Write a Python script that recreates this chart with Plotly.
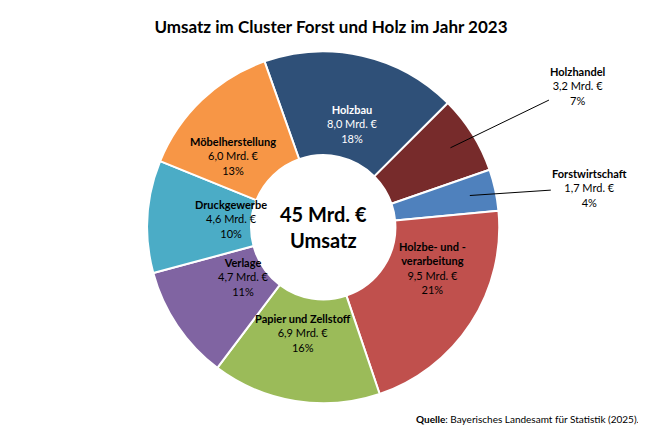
import math
import plotly.graph_objects as go

# data
branchen = ["Holzbau", "Holzhandel", "Forstwirtschaft", "Holzbe- und -<br>verarbeitung",
            "Papier und Zellstoff", "Verlage", "Druckgewerbe", "Möbelherstellung"]
umsatz = [8.0, 3.2, 1.7, 9.5, 6.9, 4.7, 4.6, 6.0]
umsatz_txt = ["8,0", "3,2", "1,7", "9,5", "6,9", "4,7", "4,6", "6,0"]
anteil = [18, 7, 4, 21, 16, 11, 10, 13]
farben = ["#2F5078", "#772B2B", "#4F81BD", "#C0504D", "#9BBB59", "#8064A2", "#4BACC6", "#F79646"]
textfarben = ["white", "black", "black", "black", "black", "black", "black", "black"]
aussen = ["Holzhandel", "Forstwirtschaft"]

W, H = 646, 430
cx, cy = 0.488, 0.49
R = 176
rot = -19.5
font = "Lato"

fig = go.Figure(go.Pie(
    labels=branchen, values=umsatz, sort=False, direction="clockwise",
    rotation=rot, hole=0.41, textinfo="none", hoverinfo="label+value",
    marker=dict(colors=farben, line=dict(color="white", width=2)),
    domain=dict(x=[cx - R / W, cx + R / W], y=[cy - R / H, cy + R / H]),
    showlegend=False,
))

annots = []
total = sum(umsatz)
start = rot
for name, v, vt, p, tc in zip(branchen, umsatz, umsatz_txt, anteil, textfarben):
    mid = math.radians(start + v / total * 180)
    start += v / total * 360
    txt = f"<b>{name}</b><br>{vt} Mrd. €<br>{p}%"
    if name in aussen:
        r = 150
        hx = cx + r * math.sin(mid) / W
        hy = cy + r * math.cos(mid) / H
        ax, ay = (128, -62) if name == "Holzhandel" else (120, -8)
        annots.append(dict(x=hx, y=hy, xref="paper", yref="paper", text=txt,
                           showarrow=True, arrowhead=0, arrowwidth=1, arrowcolor="black",
                           ax=ax, ay=ay, font=dict(size=11, color="black", family=font),
                           align="center"))
    else:
        r = 130
        annots.append(dict(x=cx + r * math.sin(mid) / W, y=cy + r * math.cos(mid) / H,
                           xref="paper", yref="paper", text=txt, showarrow=False,
                           font=dict(size=11, color=tc, family=font), align="center"))

annots.append(dict(x=cx, y=cy, xref="paper", yref="paper", showarrow=False,
                   text="<b>45 Mrd. €<br>Umsatz</b>",
                   font=dict(size=20, color="black", family=font)))
annots.append(dict(x=0.98, y=0.025, xref="paper", yref="paper", showarrow=False,
                   xanchor="right", yanchor="bottom",
                   text="<b>Quelle</b>: Bayerisches Landesamt für Statistik (2025).",
                   font=dict(size=10, color="black", family=font)))

fig.update_layout(
    width=W, height=H, margin=dict(l=0, r=0, t=0, b=0),
    paper_bgcolor="white",
    title=dict(text="<b>Umsatz im Cluster Forst und Holz im Jahr 2023</b>",
               x=0.5, y=0.955, xanchor="center", yanchor="middle",
               font=dict(size=17, color="black", family=font)),
    annotations=annots,
)

fig.write_html("out.html")
